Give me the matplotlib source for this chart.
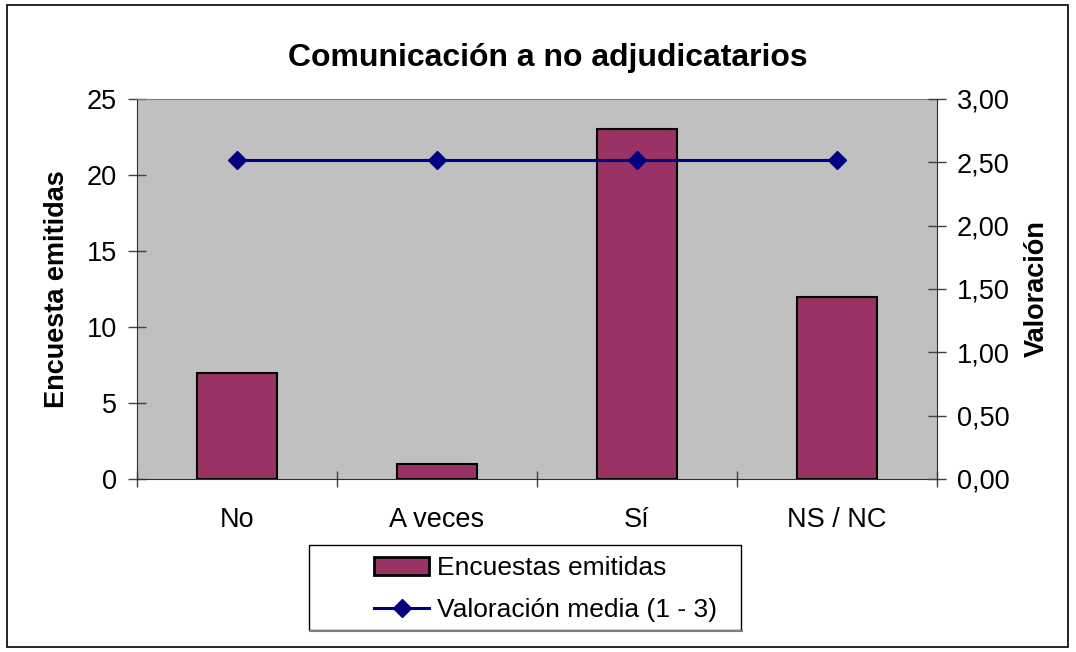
import matplotlib
matplotlib.use('Agg')
from matplotlib import pyplot as plt
from matplotlib.patches import Rectangle
import numpy as np

plt.rcParams['font.family'] = ['Liberation Sans', 'DejaVu Sans']

categorias = ['No', 'A veces', 'Sí', 'NS / NC']
encuestas = [7, 1, 23, 12]
valoracion = [2.52, 2.52, 2.52, 2.52]

W, H = 1076, 652
fig = plt.figure(figsize=(W / 100, H / 100), dpi=100)
# marco exterior
fig.patches.append(Rectangle((7/W, 1-647/H), 1061/W, 642/H, transform=fig.transFigure,
                             fill=False, edgecolor='black', linewidth=1.2))

ax = fig.add_axes([137/W, 1-479/H, 800/W, 380/H])
ax.set_facecolor('#C0C0C0')
ind = np.arange(len(categorias))
ax.bar(ind, encuestas, 0.4, color='#993366', edgecolor='black', linewidth=1.5, zorder=2,
       label='Encuestas emitidas')
ax.set_xlim(-0.5, len(categorias) - 0.5)
ax.set_ylim(0, 25)
ax.set_yticks([0, 5, 10, 15, 20, 25])
ax.set_xticks(ind)
ax.set_xticklabels(categorias)
ax.set_xticks(np.arange(-0.5, len(categorias)), minor=True)
ax.tick_params(axis='x', which='major', length=0, pad=20, labelsize=19.5)
ax.tick_params(axis='x', which='minor', direction='inout', length=11.5, width=1, color='#404040')
ax.tick_params(axis='y', direction='inout', length=12.5, width=1, color='#404040', labelsize=19.5, pad=8)
for s in ['top', 'right']:
    ax.spines[s].set_visible(False)
for s in ['left', 'bottom']:
    ax.spines[s].set_color('#303030')
ax.set_ylabel('Encuesta emitidas', fontsize=19.5, fontweight='bold', labelpad=12)

ax2 = ax.twinx()
ax2.plot(ind, valoracion, color='#000080', linewidth=2.2, marker='D', markersize=9,
         label='Valoración media (1 - 3)')
ax2.set_ylim(0, 3)
ax2.set_yticks(np.arange(0, 3.01, 0.5))
ax2.set_yticklabels([f'{v:.2f}'.replace('.', ',') for v in np.arange(0, 3.01, 0.5)])
ax2.tick_params(axis='y', direction='inout', length=12.5, width=1, color='#404040', labelsize=19.5, pad=8)
for s in ['top', 'left', 'bottom']:
    ax2.spines[s].set_visible(False)
ax2.spines['right'].set_color('#303030')
ax2.set_ylabel('Valoración', fontsize=19.5, fontweight='bold', labelpad=10)
ax.spines['top'].set_visible(True)
ax.spines['top'].set_color('#808080')

fig.text(548/W, 1-58/H, 'Comunicación a no adjudicatarios', ha='center', va='center',
         fontsize=23, fontweight='bold')

# caja de la leyenda
fig.patches.append(Rectangle((309/W, 1-630/H), 432/W, 85/H, transform=fig.transFigure,
                             facecolor='white', edgecolor='black', linewidth=1, zorder=1))
fig.lines.append(plt.Line2D([310/W, 742/W], [1-631/H, 1-631/H], transform=fig.transFigure,
                            color='#808080', linewidth=1.5))
h1, l1 = ax.get_legend_handles_labels()
h2, l2 = ax2.get_legend_handles_labels()
leg = fig.legend(h1 + h2, l1 + l2, loc='upper left', bbox_to_anchor=(374/W, 1-556/H),
                 fontsize=19, frameon=False, borderpad=0, handlelength=2.1,
                 handletextpad=0.3, labelspacing=0.7, borderaxespad=0)
leg.legend_handles[0].set_linewidth(2)

fig.savefig('out.png', dpi=100)
